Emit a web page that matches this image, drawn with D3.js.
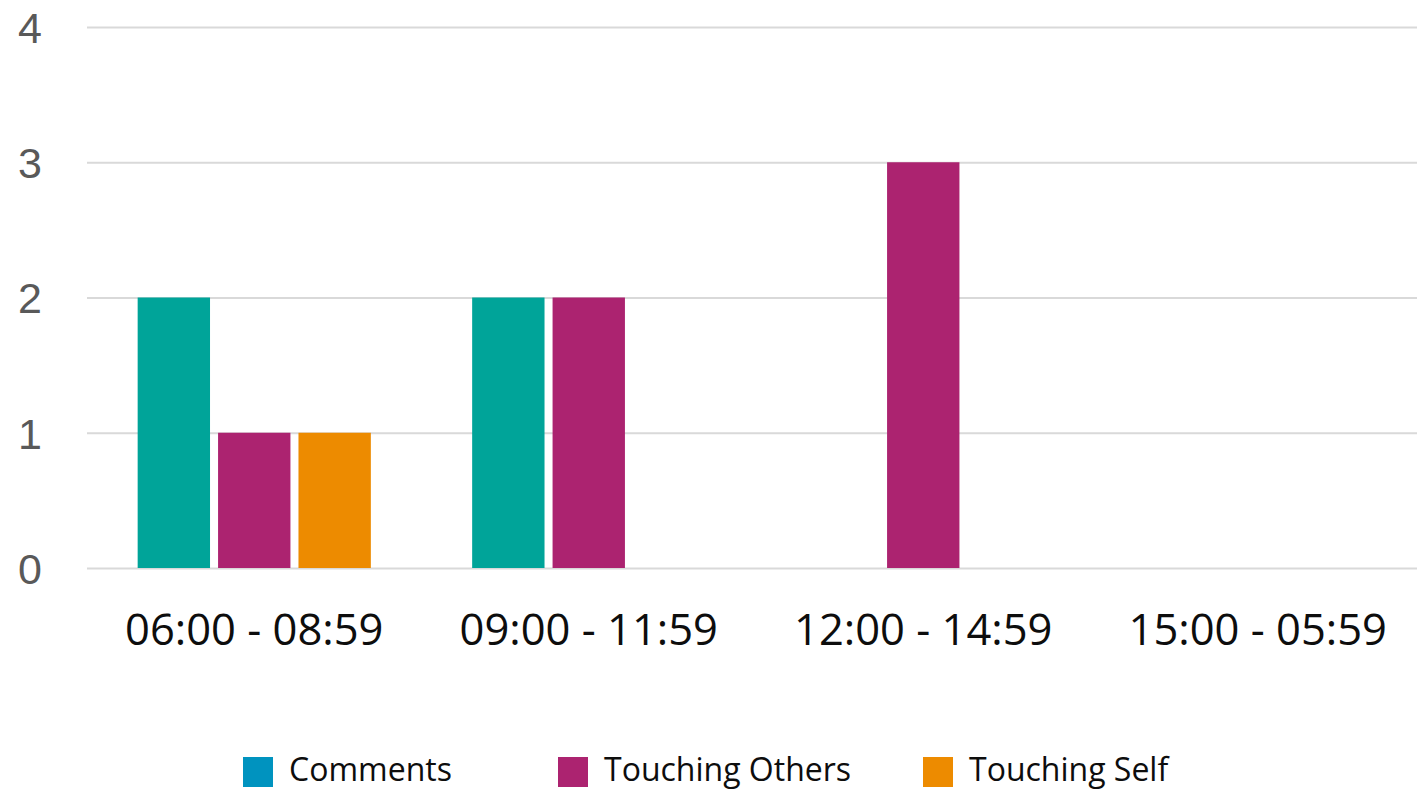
<!DOCTYPE html>
<html>
<head>
<meta charset="utf-8">
<script src="https://cdn.jsdelivr.net/npm/d3@7.9.0/dist/d3.min.js"></script>
<style>
  html, body { margin: 0; padding: 0; background: #fff; }
  svg { display: block; font-family: 'Open Sans', sans-serif; }
</style>
</head>
<body>
<svg id="chart" width="1417" height="791"></svg>
<script>
const categories = ['06:00 - 08:59', '09:00 - 11:59', '12:00 - 14:59', '15:00 - 05:59'];
const seriesNames = ['Comments', 'Touching Others', 'Touching Self'];
const comments = [2, 2, 0, 0];
const touchingOthers = [1, 2, 3, 0];
const touchingSelf = [1, 0, 0, 0];
const yTicks = [0, 1, 2, 3, 4];

const barColors = ['#00a499', '#ac2370', '#ed8b00'];
const legendColors = ['#0093bf', '#ac2370', '#ed8b00'];

const series = [comments, touchingOthers, touchingSelf];
const rows = categories.map((c, i) => ({
  cat: c,
  values: seriesNames.map((s, j) => ({ series: s, idx: j, value: series[j][i] }))
}));

const width = 1417;
const height = 791;
const plot = { left: 87, right: 1425, top: 27, bottom: 568 };

const svg = d3.select('#chart');

const x0 = d3.scaleBand().domain(categories).range([plot.left, plot.right]);
const x1 = d3.scaleBand().domain(seriesNames).range([0, x0.bandwidth()])
  .paddingInner(0.1).paddingOuter(0.63);
const y = d3.scaleLinear().domain([0, 4]).range([plot.bottom, plot.top]);

// gridlines + y labels
const yAxis = svg.append('g')
  .attr('transform', `translate(${plot.left},0)`)
  .call(d3.axisLeft(y).tickValues(yTicks).tickSize(-(width - plot.left)).tickPadding(45).tickFormat(d3.format('d')));
yAxis.select('.domain').remove();
yAxis.selectAll('.tick line').attr('stroke', '#d9d9d9').attr('stroke-width', 2);
yAxis.selectAll('.tick text')
  .attr('fill', '#595959')
  .style('font-size', '43px')
  .attr('dy', '0.36em');

// bars
const groups = svg.append('g').selectAll('g')
  .data(rows)
  .join('g')
  .attr('transform', d => `translate(${x0(d.cat)},0)`);

groups.selectAll('rect')
  .data(d => d.values.filter(v => v.value > 0))
  .join('rect')
  .attr('x', d => x1(d.series))
  .attr('width', x1.bandwidth())
  .attr('y', d => y(d.value))
  .attr('height', d => y(0) - y(d.value))
  .attr('fill', d => barColors[d.idx]);

// x labels
svg.append('g').selectAll('text')
  .data(categories)
  .join('text')
  .attr('x', d => x0(d) + x0.bandwidth() / 2)
  .attr('y', 645)
  .attr('text-anchor', 'middle')
  .attr('fill', '#0d0d0d')
  .style('font-size', '43.5px')
  .text(d => d);

// legend
const legendX = [243, 558, 923];
const legend = svg.append('g').selectAll('g')
  .data(seriesNames)
  .join('g')
  .attr('transform', (d, i) => `translate(${legendX[i]},757)`);
legend.append('rect')
  .attr('width', 30)
  .attr('height', 30)
  .attr('fill', (d, i) => legendColors[i]);
legend.append('text')
  .attr('x', 46)
  .attr('y', 24)
  .attr('fill', '#0d0d0d')
  .style('font-size', '32px')
  .text(d => d);
</script>
</body>
</html>
